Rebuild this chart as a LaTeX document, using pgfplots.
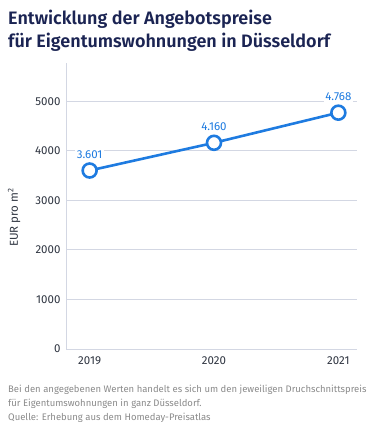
\documentclass[border=0pt]{standalone}
\usepackage{pgfplots}
\pgfplotsset{compat=1.18}
\usepackage{fontspec}
\setmainfont{Fira Sans}
\newfontfamily\titlefont{Fira Sans SemiBold}
\definecolor{titlec}{HTML}{1B2453}
\definecolor{linec}{HTML}{1E7BE0}
\definecolor{gridc}{HTML}{D3D7E3}
\definecolor{tickc}{HTML}{2E3440}
\definecolor{notec}{HTML}{8A8A8A}
\begin{document}
\begin{tikzpicture}[x=1bp,y=1bp]
\useasboundingbox (0,0) rectangle (375,-429);
\node[anchor=base west, inner sep=0, text=titlec, font=\titlefont\fontsize{18bp}{23bp}\selectfont] at (8,-24) {Entwicklung der Angebotspreise};
\node[anchor=base west, inner sep=0, text=titlec, font=\titlefont\fontsize{18bp}{23bp}\selectfont] at (8,-47) {für Eigentumswohnungen in Düsseldorf};
\begin{axis}[
  at={(66bp,-349bp)}, anchor=south west,
  scale only axis, width=291bp, height=286bp,
  xmin=2018.81, xmax=2021.15,
  ymin=0, ymax=5770,
  xtick={2019,2020,2021},
  xticklabels={2019,2020,2021},
  ytick={0,1000,2000,3000,4000,5000},
  yticklabels={0,1000,2000,3000,4000,5000},
  ymajorgrids, grid style={gridc, line width=0.8bp},
  axis lines*=left,
  axis line style={gridc, line width=0.8bp, -},
  x axis line style={draw=none},
  major tick length=0pt,
  tick label style={text=tickc, font=\fontsize{11.5bp}{13bp}\selectfont},
  yticklabel style={xshift=-2bp},
  xticklabel style={yshift=-4bp},
  ylabel={EUR pro m\textsuperscript{2}},
  ylabel style={text=tickc, font=\fontsize{11.5bp}{13bp}\selectfont, at={(axis description cs:-0.145,0.46)}, anchor=south},
  clip=false,
]
\addplot[linec, line width=2.6bp, mark=*, mark size=7bp,
  mark options={fill=white, draw=linec, line width=2.6bp},
  nodes near coords, point meta=explicit symbolic,
  every node near coord/.append style={text=linec, font=\fontsize{11.5bp}{13bp}\selectfont, fill=white, inner sep=1.5bp, yshift=9bp}]
  coordinates {(2019,3601)[3.601] (2020,4160)[4.160] (2021,4768)[4.768]};
\end{axis}
\begin{scope}[font=\fontsize{9.5bp}{14bp}\selectfont]
\node[anchor=base west, inner sep=0, text=notec] at (8,-392) {Bei den angegebenen Werten handelt es sich um den jeweiligen Druchschnittspreis};
\node[anchor=base west, inner sep=0, text=notec] at (8,-406) {für Eigentumswohnungen in ganz Düsseldorf.};
\node[anchor=base west, inner sep=0, text=notec] at (8,-420) {Quelle: Erhebung aus dem Homeday-Preisatlas};
\end{scope}
\end{tikzpicture}
\end{document}
